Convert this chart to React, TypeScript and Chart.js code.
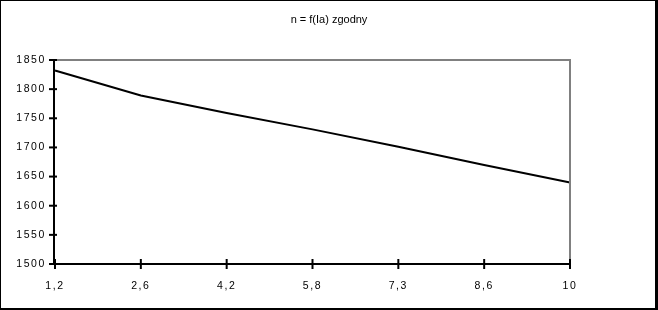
import React, { useEffect, useRef } from "react";
import { Chart, registerables } from "chart.js";

Chart.register(...registerables);

const TITLE = "n = f(Ia) zgodny";
const categories = ["1,2", "2,6", "4,2", "5,8", "7,3", "8,6", "10"];
const speedValues = [1832, 1789, 1759, 1731, 1701, 1670, 1640];
const yMin = 1500;
const yMax = 1850;
const yStep = 50;

const FONT = "'Liberation Sans', Arial, sans-serif";

const decorPlugin = {
  id: "decor",
  beforeDraw(chart: any) {
    (chart.ctx as any).letterSpacing = "1.6px";
  },
  afterDraw(chart: any) {
    const ctx = chart.ctx as CanvasRenderingContext2D;
    const { left, right, top, bottom } = chart.chartArea;
    const W = chart.width;
    const H = chart.height;
    ctx.save();
    (ctx as any).letterSpacing = "0px";
    // outer border
    ctx.fillStyle = "#000";
    ctx.fillRect(0, 0, W, 1);
    ctx.fillRect(0, 0, 1, H);
    ctx.fillRect(W - 3, 0, 3, H);
    ctx.fillRect(0, H - 2, W, 2);
    // plot border (gray)
    ctx.strokeStyle = "#808080";
    ctx.lineWidth = 2;
    ctx.beginPath();
    ctx.moveTo(left, top);
    ctx.lineTo(right, top);
    ctx.lineTo(right, bottom);
    ctx.stroke();
    // axes
    ctx.strokeStyle = "#000";
    ctx.lineWidth = 2;
    ctx.beginPath();
    ctx.moveTo(left - 1, top);
    ctx.lineTo(left - 1, bottom);
    ctx.moveTo(left - 1, bottom);
    ctx.lineTo(right, bottom);
    ctx.stroke();
    // ticks
    const ys = chart.scales.y;
    ys.ticks.forEach((_t: any, i: number) => {
      const p = ys.getPixelForTick(i);
      ctx.beginPath();
      ctx.moveTo(left - 6, p);
      ctx.lineTo(left + 2, p);
      ctx.stroke();
    });
    const xs = chart.scales.x;
    xs.ticks.forEach((_t: any, i: number) => {
      const p = xs.getPixelForTick(i);
      ctx.beginPath();
      ctx.moveTo(p, bottom - 5);
      ctx.lineTo(p, bottom + 5);
      ctx.stroke();
    });
    // title
    ctx.fillStyle = "#000";
    ctx.font = `11px ${FONT}`;
    ctx.textAlign = "center";
    ctx.textBaseline = "middle";
    ctx.fillText(TITLE, 329, 20);
    ctx.restore();
  },
};

export default function App() {
  const ref = useRef<HTMLCanvasElement | null>(null);
  useEffect(() => {
    if (!ref.current) return;
    const chart = new Chart(ref.current, {
      type: "line",
      data: {
        labels: categories,
        datasets: [
          {
            data: speedValues,
            borderColor: "#000",
            borderWidth: 2,
            pointRadius: 0,
            tension: 0,
            fill: false,
          },
        ],
      },
      options: {
        animation: false,
        responsive: true,
        maintainAspectRatio: false,
        layout: { padding: { left: 0, top: 60, right: 88, bottom: 0 } },
        plugins: {
          legend: { display: false },
          title: { display: false },
          tooltip: { enabled: false },
        },
        scales: {
          x: {
            type: "category",
            offset: false,
            grid: { display: false, drawTicks: false },
            border: { display: false },
            ticks: {
              color: "#000",
              font: { family: FONT, size: 10.5 },
              padding: 16,
              maxRotation: 0,
              autoSkip: false,
            },
            afterFit: (s: any) => {
              s.height = 46;
            },
          },
          y: {
            min: yMin,
            max: yMax,
            grid: { display: false, drawTicks: false },
            border: { display: false },
            ticks: {
              stepSize: yStep,
              color: "#000",
              font: { family: FONT, size: 10.5 },
              padding: 9,
              callback: (v: any) => String(v),
            },
            afterFit: (s: any) => {
              s.width = 55;
            },
          },
        },
      },
      plugins: [decorPlugin],
    });
    return () => chart.destroy();
  }, []);
  return (
    <div style={{ position: "fixed", left: 0, top: 0, width: 658, height: 310, background: "#fff" }}>
      <canvas ref={ref} />
    </div>
  );
}
